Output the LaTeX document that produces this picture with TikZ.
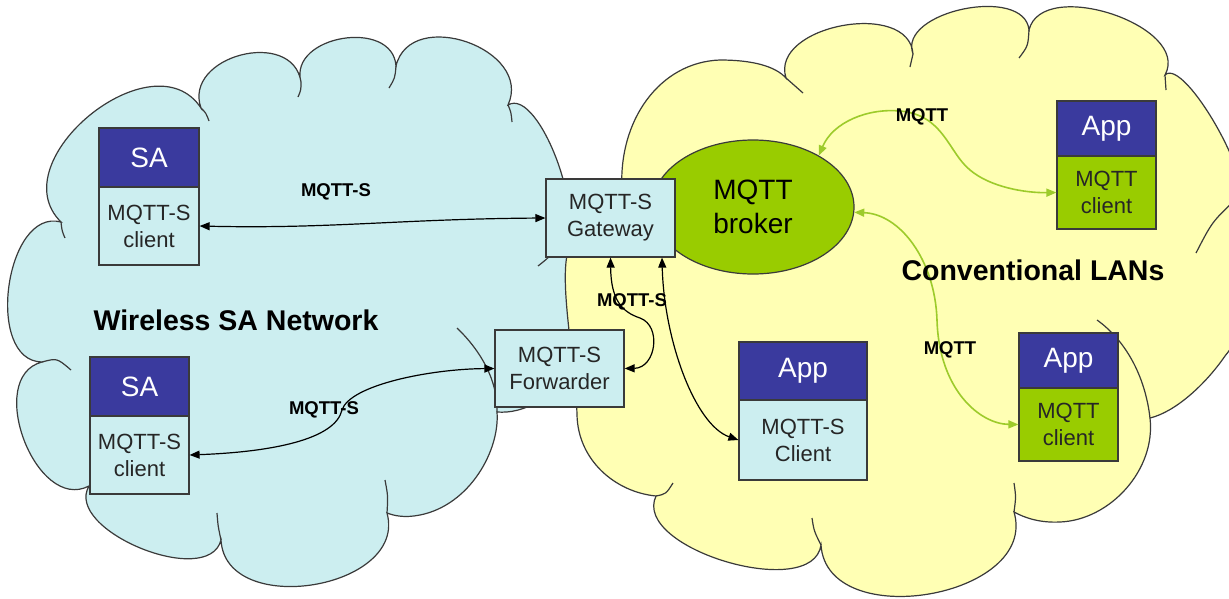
\documentclass[tikz,border=0pt]{standalone}
\usepackage{fontspec}
\setmainfont{Liberation Sans}
\usetikzlibrary{arrows.meta,shapes.geometric,calc}
\definecolor{hdrblue}{HTML}{3A3A9E}
\definecolor{boxcyan}{HTML}{CCEEF0}
\definecolor{cloudcyan}{HTML}{CCEEF0}
\definecolor{cloudyellow}{HTML}{FFFFB4}
\definecolor{brokergreen}{HTML}{99CC00}
\definecolor{arrowgreen}{HTML}{9DCB2B}
\definecolor{edgegray}{HTML}{3A3A3A}
% one cloud bump from #1 through #2 (its middle) to #3
\newcommand\lobe[3]{.. controls ($0.3833*(#1)+1.3333*(#2)-0.7167*(#3)$) and ($0.3833*(#3)+1.3333*(#2)-0.7167*(#1)$) .. (#3)}
\begin{document}
\begin{tikzpicture}[x=1pt,y=-1pt,
  cloudline/.style={draw=edgegray,line width=1.2pt},
  hdr/.style={draw=edgegray,line width=1.2pt,fill=hdrblue,text=white,font=\fontsize{28}{34}\selectfont,inner sep=0pt},
  clientbox/.style={draw=edgegray,line width=1.2pt,fill=boxcyan,text=black!85,align=center,font=\fontsize{22}{27}\selectfont,inner sep=0pt},
  greenbox/.style={clientbox,fill=brokergreen},
  lbl/.style={font=\bfseries\fontsize{18.5}{22}\selectfont,inner sep=0pt},
  biglbl/.style={font=\bfseries\fontsize{28.5}{34}\selectfont,inner sep=0pt},
  blink/.style={line width=1.2pt,draw=black,{Triangle[length=10pt,width=8pt]}-{Triangle[length=10pt,width=8pt]}},
  glink/.style={line width=1.6pt,draw=arrowgreen,{Triangle[length=10pt,width=8pt]}-{Triangle[length=10pt,width=8pt]}},
]
\useasboundingbox (0,0) rectangle (1229,598);
\fill[white] (0,0) rectangle (1229,598);
\clip (0,0) rectangle (1229,598);

% ---------------- blue cloud ----------------
\path[fill=cloudcyan,cloudline] (61,222)
  \lobe{61,222}{90,115}{201,108}
  \lobe{201,108}{241,55}{301,82}
  \lobe{301,82}{342.5,38.5}{396,66}
  \lobe{396,66}{467,42}{508,105}
  \lobe{508,105}{558,163}{556,240}
  .. controls (600,290) and (590,370) .. (540,400)
  .. controls (525,410) and (510,413) .. (497,412)
  .. controls (500,450) and (470,505) .. (420,515)
  .. controls (405,518) and (395,516) .. (387,513)
  \lobe{387,513}{313.5,584.7}{221,540}
  \lobe{221,540}{140.6,548.2}{89,486}
  \lobe{89,486}{24,440}{42,362}
  \lobe{42,362}{8.9,286.2}{61,222}
  -- cycle;
\draw[cloudline] (61,222) .. controls (62,231) .. (65,238);
\draw[cloudline] (201,108) .. controls (206,113) .. (209,121);
\draw[cloudline] (301,82) .. controls (301,90) .. (298,97);
\draw[cloudline] (396,66) .. controls (395,78) .. (389,88);
\draw[cloudline] (508,105) .. controls (511,112) .. (512,122);
\draw[cloudline] (556,240) .. controls (552,255) .. (538,266);
\draw[cloudline] (497,412) .. controls (498,380) and (480,350) .. (457,328);
\draw[cloudline] (387,513) .. controls (388,496) .. (385,480);
\draw[cloudline] (221,540) .. controls (218,526) .. (217,513);
\draw[cloudline] (42,362) .. controls (57,358) .. (71,370);

% ---------------- yellow cloud ----------------
\path[fill=cloudyellow,cloudline] (622,190)
  .. controls (618,120) and (660,62) .. (720,60)
  .. controls (752,60) and (775,66) .. (786,78)
  \lobe{786,78}{841.9,25.7}{913,54}
  \lobe{913,54}{963.5,9}{1029,30}
  \lobe{1029,30}{1112,14}{1165,75}
  \lobe{1165,75}{1217.4,127.7}{1235,200}
  .. controls (1262,250) and (1255,320) .. (1225,356)
  .. controls (1205,385) and (1175,412) .. (1150,418)
  .. controls (1156,470) and (1110,520) .. (1060,522)
  .. controls (1040,523) and (1025,518) .. (1014,512)
  \lobe{1014,512}{929.2,594}{821,545}
  \lobe{821,545}{726.2,561.7}{656,496}
  .. controls (615,492) and (578,460) .. (577,415)
  .. controls (576,370) and (562,300) .. (566,262)
  .. controls (570,225) and (600,195) .. (622,190)
  -- cycle;
\draw[cloudline] (786,78) .. controls (795,85) .. (803,93);
\draw[cloudline] (913,54) .. controls (911,61) .. (910,67);
\draw[cloudline] (1029,30) .. controls (1028,46) .. (1019,58);
\draw[cloudline] (1165,75) .. controls (1166,83) .. (1166,90);
\draw[cloudline] (1235,200) .. controls (1212,222) .. (1196,253);
\draw[cloudline] (1150,418) .. controls (1145,375) and (1125,340) .. (1097,320);
\draw[cloudline] (1014,512) .. controls (1016,497) .. (1014,483);
\draw[cloudline] (821,545) .. controls (814,531) .. (812,518);
\draw[cloudline] (656,496) .. controls (666,494) .. (673,483);

% ---------------- broker ----------------
\node[ellipse,draw=edgegray,line width=1.2pt,fill=brokergreen,minimum width=202pt,minimum height=134pt,inner sep=0pt,align=center,font=\fontsize{28}{34}\selectfont] (broker) at (753,207) {MQTT\\broker};

% ---------------- boxes ----------------
\node[hdr,minimum width=100pt,minimum height=59pt] (sa1h) at (149,157.5) {SA};
\node[clientbox,minimum width=100pt,minimum height=78pt] (sa1c) at (149,226) {MQTT-S\\client};
\node[hdr,minimum width=99pt,minimum height=59pt] (sa2h) at (139.5,386.5) {SA};
\node[clientbox,minimum width=99pt,minimum height=78pt] (sa2c) at (139.5,455) {MQTT-S\\client};
\node[clientbox,minimum width=129pt,minimum height=78pt] (gw) at (610.5,218) {MQTT-S\\Gateway};
\node[clientbox,minimum width=129pt,minimum height=77pt] (fw) at (559.5,368.5) {MQTT-S\\Forwarder};
\node[hdr,minimum width=128pt,minimum height=58pt] (mqh) at (803,371) {App};
\node[clientbox,minimum width=128pt,minimum height=80pt] (mqc) at (803,440) {MQTT-S\\Client};
\node[hdr,minimum width=99pt,minimum height=55pt] (app1h) at (1106.5,128.5) {App};
\node[greenbox,minimum width=99pt,minimum height=73pt] (app1c) at (1106.5,192.5) {MQTT\\client};
\node[hdr,minimum width=99pt,minimum height=55pt] (app2h) at (1068.5,360.5) {App};
\node[greenbox,minimum width=99pt,minimum height=73pt] (app2c) at (1068.5,424.5) {MQTT\\client};

% ---------------- connectors ----------------
\draw[blink] (sa1c.east) .. controls (330,229) and (400,219) .. (gw.west);
\draw[blink] (sa2c.east) .. controls (270,452) and (335,440) .. (342,410)
   .. controls (350,385) and (430,369) .. (fw.west);
\draw[blink] (gw.south) .. controls (611,300) and (622,312) .. (640,318)
   .. controls (662,326) and (656,368) .. (fw.east);
\draw[blink] ([xshift=51.5pt]gw.south) .. controls (664,340) and (695,425) .. (mqc.west);
\draw[glink] (broker.38) .. controls (833,122) and (868,108) .. (900,111)
   .. controls (944,115) and (948,152) .. (970,170)
   .. controls (990,187) and (1025,193) .. (app1c.west);
\draw[glink] (broker.-3) .. controls (900,214) and (935,260) .. (937,320)
   .. controls (939,390) and (980,424) .. (app2c.west);

% ---------------- labels ----------------
\node[lbl] (l1) at (336,192) {MQTT-S};
\node[lbl] (l2) at (324,410) {MQTT-S};
\node[lbl] (l3) at (632,302) {MQTT-S};
\node[lbl] (l4) at (922,117) {MQTT};
\node[lbl] (l5) at (950,350) {MQTT};
\node[biglbl] (wsn) at (236,320) {Wireless SA Network};
\node[biglbl] (clan) at (1033,270) {Conventional LANs};
\end{tikzpicture}
\end{document}
